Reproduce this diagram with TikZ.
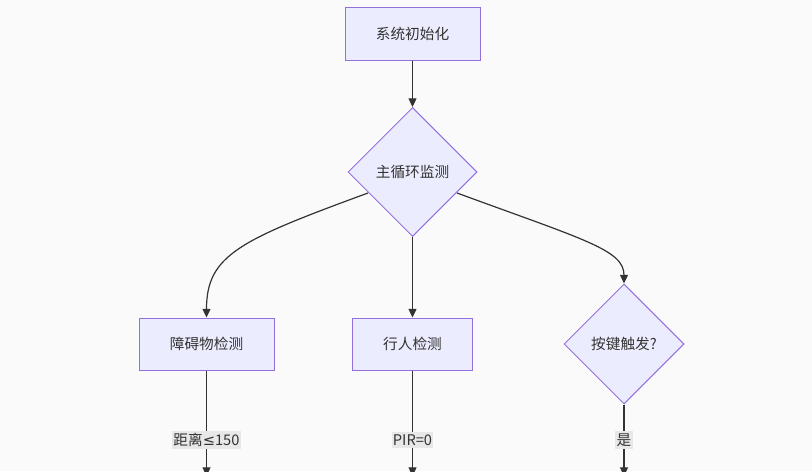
\documentclass[tikz,border=0pt]{standalone}
\usepackage{fontspec}
\setmainfont{Noto Sans CJK SC}
\newfontfamily\symfont{DejaVu Sans}
\usetikzlibrary{arrows.meta,shapes.geometric}
\definecolor{bg}{HTML}{FAFAFA}
\definecolor{nodefill}{HTML}{ECECFF}
\definecolor{nodeline}{HTML}{9370DB}
\definecolor{edgecol}{HTML}{333333}
\definecolor{lblfill}{HTML}{E8E8E8}
\definecolor{txt}{HTML}{333333}
\begin{document}
\begin{tikzpicture}[x=0.75pt,y=-0.75pt,
  every node/.style={font=\fontsize{11}{13}\selectfont, text=txt},
  procbox/.style={draw=nodeline, fill=nodefill, line width=0.75pt, rectangle, minimum height=53*0.75pt, inner sep=0pt},
  decis/.style={draw=nodeline, fill=nodefill, line width=0.75pt, diamond, aspect=1, inner sep=0pt},
  edge/.style={draw=edgecol, line width=0.9pt, -{Triangle[length=6.5pt,width=6pt]}},
  lbl/.style={fill=lblfill, inner xsep=1pt, inner ysep=2pt}]
\fill[bg] (0,0) rectangle (812,471);
\clip (0,0) rectangle (812,471);
\node[procbox, minimum width=135*0.75pt] (init) at (412.5,33.5) {系统初始化};
\node[decis, minimum width=129*0.75pt, minimum height=129*0.75pt] (loop) at (412.5,172) {主循环监测};
\node[procbox, minimum width=135*0.75pt, minimum height=52*0.75pt] (obs) at (206.5,344) {障碍物检测};
\node[procbox, minimum width=120*0.75pt, minimum height=52*0.75pt] (ped) at (412.5,344) {行人检测};
\node[decis, minimum width=120*0.75pt, minimum height=120*0.75pt] (key) at (624,344) {按键触发?};
\coordinate (e1) at (206.5,476);
\coordinate (e2) at (412.5,476);
\coordinate (e3) at (624,476);
\draw[edge] (init) -- (loop);
\draw[edge] (368,193) .. controls (240,240) and (206.5,255) .. (obs.north);
\draw[edge] (loop.south) -- (ped.north);
\draw[edge] (457,193) .. controls (585,240) and (624,250) .. (key.north);
\draw[edge] (obs.south) -- (e1);
\draw[edge] (ped.south) -- (e2);
\draw[edge] (key.south) -- (e3);
\node[lbl] (l1) at (206.5,440) {距离{\symfont ≤}150};
\node[lbl] (l2) at (412.5,440) {PIR=0};
\node[lbl] (l3) at (624,440) {是};
\end{tikzpicture}
\end{document}
